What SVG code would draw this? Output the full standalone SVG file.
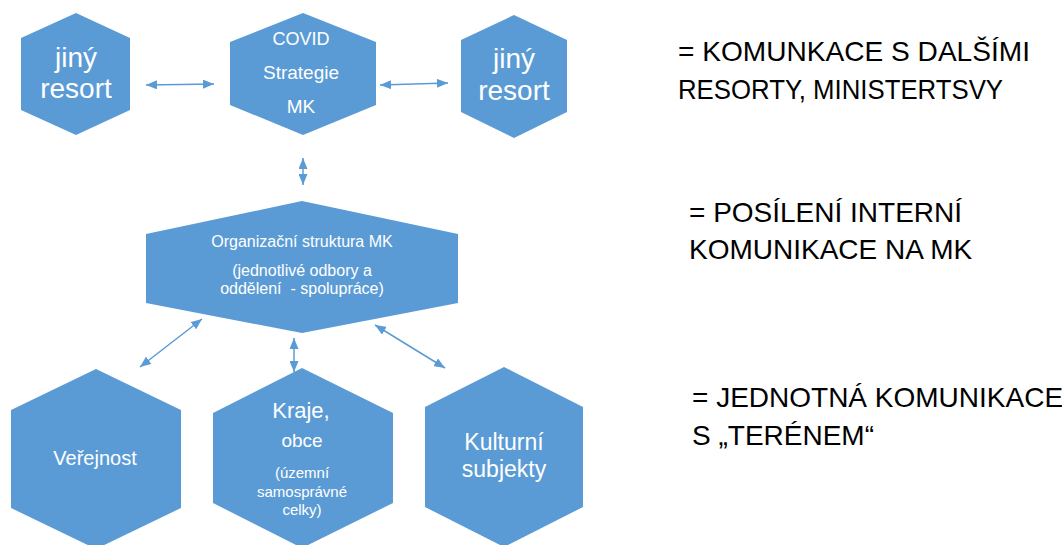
<svg xmlns="http://www.w3.org/2000/svg" width="1062" height="545" viewBox="0 0 1062 545">
<style>
.hex{fill:#5B9BD5;}
.nt{font-family:"Liberation Sans",Arial,sans-serif;fill:#ffffff;text-anchor:middle;}
.conn line{stroke:#5B9BD5;stroke-width:1.5;fill:none;marker-start:url(#ah);marker-end:url(#ah);}
.rt{font-family:"Liberation Sans",Arial,sans-serif;fill:#000000;font-size:28px;}
</style>
<defs>
<marker id="ah" viewBox="0 0 11 9" refX="11" refY="4.5" markerWidth="11" markerHeight="9" markerUnits="userSpaceOnUse" orient="auto-start-reverse">
<path d="M0,0 L11,4.5 L0,9 z" fill="#5B9BD5"/>
</marker>
</defs>
<rect width="1062" height="545" fill="#ffffff"/>

<g id="jiny-resort-left">
<polygon class="hex" points="76,13 130,38 130,110 76,135 21,110 21,38"/>
<text class="nt" x="76" y="67" font-size="28">jiný</text>
<text class="nt" x="76" y="98" font-size="28">resort</text>
</g>

<g id="covid-strategie">
<polygon class="hex" points="303,13 376,42 376,105 303,135 230,105 230,42"/>
<text class="nt" x="301" y="45" font-size="18">COVID</text>
<text class="nt" x="301" y="79" font-size="19">Strategie</text>
<text class="nt" x="301" y="113" font-size="19">MK</text>
</g>

<g id="jiny-resort-right">
<polygon class="hex" points="514,15 567,40 567,112 514,138 461,112 461,40"/>
<text class="nt" x="514" y="68" font-size="28">jiný</text>
<text class="nt" x="514" y="100" font-size="28">resort</text>
</g>

<g id="organizacni-struktura">
<polygon class="hex" points="302,201 458,234 458,303 302,333 146,303 146,234"/>
<text class="nt" x="302" y="247" font-size="16">Organizační struktura MK</text>
<text class="nt" x="302" y="276" font-size="16">(jednotlivé odbory a</text>
<text class="nt" x="302" y="294" font-size="16" xml:space="preserve">oddělení  - spolupráce)</text>
</g>

<g id="verejnost">
<polygon class="hex" points="96,369 181,410 181,508 96,549 11,508 11,410"/>
<text class="nt" x="95" y="465" font-size="20">Veřejnost</text>
</g>

<g id="kraje-obce">
<polygon class="hex" points="302,368 393,413 393,503 302,548 213,503 213,413"/>
<text class="nt" x="301" y="418" font-size="22">Kraje,</text>
<text class="nt" x="302" y="447" font-size="19">obce</text>
<text class="nt" x="302" y="478" font-size="15">(územní</text>
<text class="nt" x="302" y="497" font-size="15">samosprávné</text>
<text class="nt" x="302" y="515" font-size="15">celky)</text>
</g>

<g id="kulturni-subjekty">
<polygon class="hex" points="504,367 583,407 583,507 504,547 425,507 425,407"/>
<text class="nt" x="504" y="450" font-size="23">Kulturní</text>
<text class="nt" x="504" y="477" font-size="23">subjekty</text>
</g>

<g id="connectors" class="conn">
<line x1="146" y1="85" x2="214" y2="84"/>
<line x1="380" y1="85" x2="448" y2="83"/>
<line x1="303" y1="158" x2="303" y2="185"/>
<line x1="202" y1="319" x2="140" y2="367"/>
<line x1="294" y1="338" x2="294" y2="372"/>
<line x1="375" y1="325" x2="445" y2="368"/>
</g>

<g id="legend">
<text class="rt" x="678" y="61" textLength="352" lengthAdjust="spacingAndGlyphs">= KOMUNKACE S DALŠÍMI</text>
<text class="rt" x="678" y="99" textLength="325" lengthAdjust="spacingAndGlyphs">RESORTY, MINISTERTSVY</text>
<text class="rt" x="689" y="222">= POSÍLENÍ INTERNÍ</text>
<text class="rt" x="689" y="259">KOMUNIKACE NA MK</text>
<text class="rt" x="692" y="407" font-size="27.5">= JEDNOTNÁ KOMUNIKACE</text>
<text class="rt" x="692" y="445" font-size="27.5">S „TERÉNEM“</text>
</g>
</svg>
